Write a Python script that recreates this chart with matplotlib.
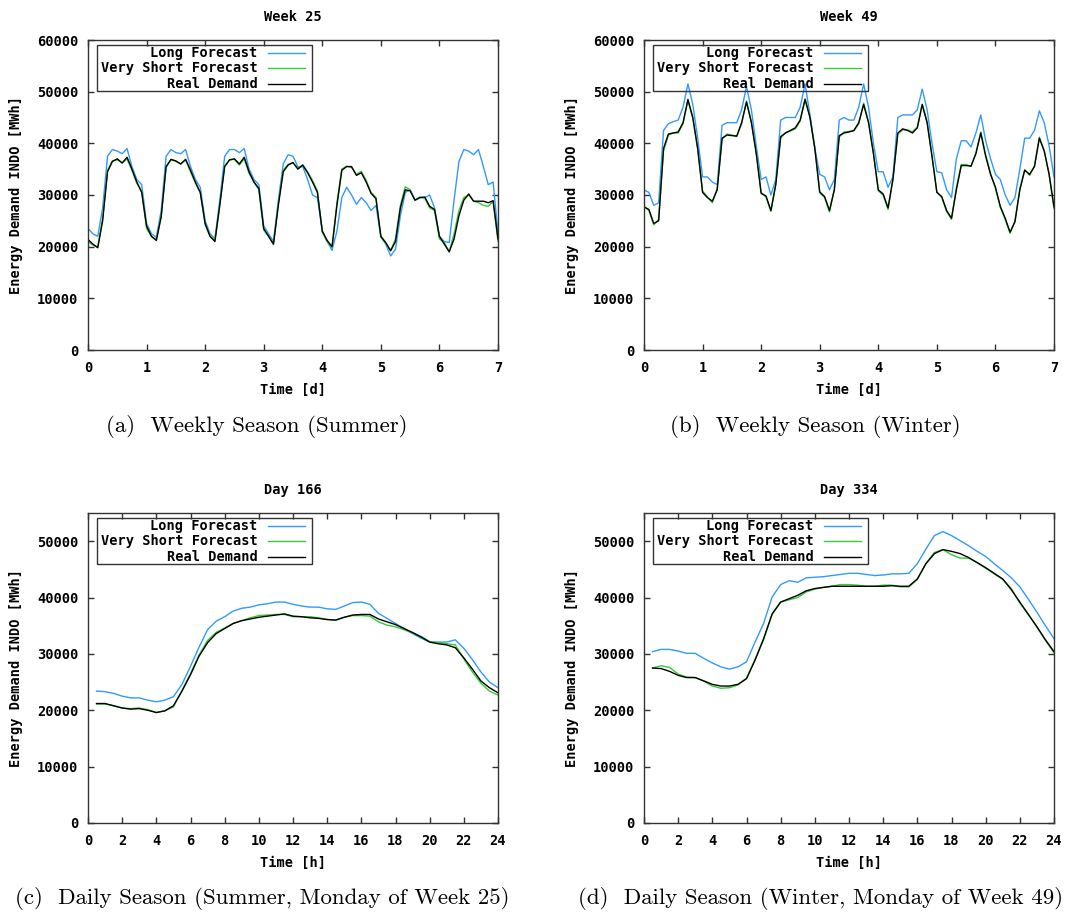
import matplotlib
matplotlib.use("Agg")
import matplotlib.pyplot as plt
from matplotlib.patches import Rectangle
import numpy as np

# values in thousands of MWh, weekly data every 2 hours (12 per day), daily data every 30 min
long_w25 = [
    23.5, 22.5, 22.0, 27.5, 37.5, 38.8, 38.5, 38.0, 39.0, 35.5, 33.0, 32.0,
    24.5, 22.5, 21.8, 27.0, 37.5, 38.8, 38.2, 38.0, 38.8, 35.5, 33.0, 31.5,
    25.0, 22.5, 21.5, 29.0, 37.5, 38.8, 38.8, 38.2, 39.0, 35.0, 33.0, 32.0,
    24.0, 22.5, 21.0, 29.0, 36.0, 37.8, 37.5, 35.5, 35.5, 33.0, 30.0, 29.5,
    23.0, 21.0, 19.3, 23.0, 29.5, 31.5, 30.0, 28.2, 29.5, 28.5, 27.0, 28.0,
    22.0, 20.5, 18.2, 19.5, 26.0, 30.5, 31.0, 29.0, 29.5, 29.5, 30.0, 27.5,
    22.0, 21.0, 20.8, 29.0, 36.5, 38.8, 38.5, 37.8, 38.8, 35.5, 32.0, 32.5,
    22.5]
vshort_w25 = [
    21.0, 20.3, 19.9, 25.5, 34.8, 36.6, 36.8, 36.2, 37.0, 34.8, 32.3, 30.8,
    23.5, 22.0, 21.3, 26.0, 35.3, 36.8, 36.5, 36.0, 36.8, 34.5, 32.3, 30.5,
    24.3, 22.0, 21.2, 28.2, 35.6, 36.8, 36.9, 35.8, 37.0, 34.2, 32.5, 31.0,
    23.2, 22.0, 20.4, 28.5, 34.8, 35.9, 36.2, 35.2, 35.8, 34.5, 32.8, 30.8,
    22.8, 21.0, 19.8, 28.5, 35.0, 35.6, 35.3, 34.0, 34.6, 32.8, 30.5, 29.5,
    21.8, 20.6, 19.3, 21.5, 28.0, 31.6, 31.0, 29.0, 29.6, 29.4, 27.5, 27.0,
    21.5, 20.8, 19.0, 22.5, 27.0, 29.5, 30.0, 28.8, 28.5, 28.0, 27.8, 28.8,
    21.0]
real_w25 = [
    21.4, 20.5, 19.8, 25.0, 34.5, 36.5, 37.0, 36.2, 37.3, 35.0, 32.5, 30.5,
    24.0, 22.0, 21.2, 25.8, 35.5, 36.9, 36.6, 36.0, 36.9, 34.8, 32.5, 30.5,
    24.5, 22.0, 21.0, 28.0, 35.5, 36.8, 37.0, 36.0, 37.3, 34.5, 32.5, 31.3,
    23.5, 22.0, 20.5, 28.0, 34.5, 35.8, 36.3, 35.0, 35.8, 34.3, 32.5, 30.5,
    23.0, 21.2, 20.0, 28.0, 34.8, 35.5, 35.5, 33.8, 34.3, 32.5, 30.3, 29.3,
    22.0, 20.8, 19.2, 21.0, 27.5, 31.0, 30.8, 29.0, 29.5, 29.6, 27.8, 27.2,
    22.0, 20.5, 19.0, 21.5, 26.0, 29.0, 30.2, 28.8, 28.8, 28.8, 28.5, 28.9,
    21.5]

long_w49 = [
    31.0, 30.5, 28.0, 28.5, 42.5, 43.8, 44.2, 44.5, 47.0, 51.5, 47.5, 41.0,
    33.5, 33.5, 32.5, 32.0, 43.5, 44.0, 44.0, 44.0, 46.5, 51.0, 46.5, 39.5,
    33.0, 33.5, 30.0, 33.0, 44.5, 45.0, 45.0, 45.0, 47.0, 51.5, 45.5, 39.0,
    34.0, 33.5, 31.0, 33.0, 44.5, 45.0, 44.5, 44.5, 47.0, 51.5, 47.0, 40.0,
    34.5, 34.5, 31.5, 33.5, 45.0, 45.5, 45.5, 45.5, 46.5, 50.5, 46.5, 40.0,
    34.5, 34.3, 31.0, 29.5, 37.0, 40.5, 40.5, 39.3, 42.0, 45.5, 40.5, 37.0,
    34.0, 33.0, 30.0, 28.0, 29.5, 35.0, 41.0, 41.0, 42.5, 46.3, 44.0, 39.5,
    33.5]
vshort_w49 = [
    27.8, 27.0, 24.2, 25.3, 38.5, 41.6, 42.0, 42.0, 43.8, 48.3, 44.8, 38.8,
    30.8, 29.6, 28.5, 31.3, 40.8, 41.8, 41.6, 41.3, 43.8, 48.2, 44.2, 38.2,
    30.5, 29.6, 26.8, 32.2, 41.0, 42.1, 42.4, 42.8, 44.3, 48.6, 45.2, 39.2,
    30.4, 29.5, 26.7, 31.2, 41.2, 42.2, 42.3, 42.4, 43.8, 47.8, 44.2, 38.3,
    30.8, 30.0, 27.2, 33.2, 41.8, 42.6, 42.6, 42.2, 43.2, 47.6, 44.2, 37.6,
    30.6, 29.5, 26.8, 25.3, 31.5, 35.9, 35.9, 35.5, 38.2, 42.2, 37.8, 34.2,
    31.3, 27.6, 25.3, 22.6, 25.0, 31.2, 34.9, 33.8, 35.7, 41.2, 38.6, 34.0,
    27.4]
real_w49 = [
    27.7, 27.2, 24.5, 25.0, 39.0, 41.8, 42.0, 42.2, 44.0, 48.5, 45.0, 39.0,
    30.5, 29.5, 28.8, 31.0, 41.0, 41.6, 41.5, 41.4, 44.0, 48.0, 44.0, 38.0,
    30.3, 29.8, 27.0, 32.0, 41.3, 42.0, 42.5, 43.0, 44.5, 48.5, 45.0, 39.0,
    30.6, 29.7, 27.0, 31.0, 41.5, 42.0, 42.2, 42.5, 44.0, 47.5, 44.0, 38.0,
    31.0, 30.2, 27.5, 33.0, 42.0, 42.8, 42.5, 42.0, 43.0, 47.5, 44.0, 37.5,
    30.5, 29.7, 27.0, 25.5, 31.0, 35.7, 35.7, 35.6, 38.0, 42.0, 37.5, 34.0,
    31.5, 27.8, 25.5, 22.8, 24.8, 31.0, 34.8, 34.0, 35.5, 41.0, 38.5, 34.0,
    27.7]

long_d166 = [
    23.4, 23.3, 23.0, 22.5, 22.2, 22.2, 21.8, 21.5, 21.8, 22.4, 24.6, 27.8,
    31.2, 34.3, 35.8, 36.6, 37.6, 38.1, 38.3, 38.7, 38.9, 39.2, 39.2, 38.8,
    38.5, 38.3, 38.3, 38.0, 37.9, 38.5, 39.1, 39.2, 38.8, 37.2, 36.3, 35.4,
    34.5, 33.6, 32.8, 32.1, 32.1, 32.1, 32.5, 31.0, 29.0, 26.8, 25.0, 24.0]
vshort_d166 = [
    21.1, 21.1, 20.8, 20.4, 20.3, 20.4, 20.1, 19.6, 19.9, 20.6, 23.5, 26.5,
    29.8, 32.4, 33.8, 34.6, 35.4, 35.9, 36.4, 36.8, 36.9, 37.0, 37.0, 36.6,
    36.6, 36.6, 36.4, 36.1, 36.0, 36.5, 36.8, 36.8, 36.7, 35.7, 35.1, 34.8,
    34.3, 33.7, 33.1, 32.2, 32.0, 31.8, 31.6, 29.1, 26.8, 24.8, 23.4, 22.7]
real_d166 = [
    21.2, 21.2, 20.8, 20.4, 20.2, 20.3, 20.0, 19.6, 19.9, 20.8, 23.4, 26.3,
    29.6, 32.0, 33.6, 34.5, 35.4, 35.9, 36.2, 36.5, 36.7, 36.9, 37.1, 36.7,
    36.6, 36.4, 36.3, 36.1, 36.0, 36.5, 36.9, 37.0, 37.0, 36.2, 35.7, 35.2,
    34.5, 33.8, 33.0, 32.1, 31.8, 31.6, 31.1, 29.3, 27.3, 25.2, 24.0, 23.1]

long_d334 = [
    30.4, 30.8, 30.8, 30.5, 30.1, 30.1, 29.2, 28.4, 27.7, 27.3, 27.7, 28.6,
    32.1, 35.4, 40.1, 42.3, 43.0, 42.7, 43.5, 43.6, 43.7, 43.9, 44.1, 44.3,
    44.3, 44.1, 43.9, 44.0, 44.2, 44.2, 44.3, 46.0, 48.6, 51.0, 51.7, 51.0,
    50.1, 49.2, 48.2, 47.3, 46.0, 44.8, 43.5, 41.9, 39.7, 37.4, 35.0, 32.7]
vshort_d334 = [
    27.5, 27.9, 27.6, 26.4, 25.9, 25.8, 25.2, 24.3, 23.9, 24.0, 24.5, 25.7,
    29.0, 32.5, 37.0, 39.2, 39.6, 40.0, 41.0, 41.5, 41.8, 42.0, 42.3, 42.3,
    42.2, 42.0, 42.0, 42.2, 42.2, 41.9, 41.9, 43.2, 46.0, 48.0, 48.5, 47.6,
    47.0, 47.0, 46.2, 45.2, 44.2, 43.2, 41.6, 39.0, 37.0, 34.8, 32.4, 30.2]
real_d334 = [
    27.5, 27.4, 26.9, 26.2, 25.8, 25.8, 25.2, 24.6, 24.3, 24.3, 24.6, 25.6,
    28.9, 32.7, 37.1, 39.2, 39.8, 40.4, 41.2, 41.6, 41.8, 42.0, 42.0, 42.0,
    42.0, 42.0, 42.0, 42.0, 42.1, 42.0, 42.0, 43.3, 46.0, 47.8, 48.5, 48.2,
    47.8, 47.1, 46.2, 45.3, 44.3, 43.3, 41.4, 39.2, 37.0, 34.8, 32.5, 30.4]

t_week = np.arange(len(real_w25)) / 12.0
t_day = np.arange(1, len(real_d166) + 1) * 0.5

labels = ["Long Forecast", "Very Short Forecast", "Real Demand"]
colors = ["#3399ff", "#33cc33", "#000000"]
frame = "#333333"
mono = dict(family="DejaVu Sans Mono", weight="bold", size=9.8)

fig = plt.figure(figsize=(10.86, 9.15), dpi=100)
W, H = 1086.0, 915.0


def panel(left, top, title, t, series, xlabel, xmax, xticks, ymax, yticks):
    ax = fig.add_axes([left / W, 1 - (top + 310) / H, 410 / W, 310 / H])
    for s, c in zip(series, colors):
        ax.plot(t, np.array(s) * 1000, color=c, lw=1.0)
    ax.set_xlim(0, xmax)
    ax.set_ylim(0, ymax)
    ax.set_xticks(xticks)
    ax.set_yticks(yticks)
    ax.tick_params(direction="in", top=True, right=True, length=4, width=1,
                   color=frame, labelsize=9.8)
    ax.tick_params(axis="x", pad=8)
    ax.tick_params(axis="y", pad=7)
    for lab in ax.get_xticklabels() + ax.get_yticklabels():
        lab.set_fontfamily("DejaVu Sans Mono")
        lab.set_fontweight("bold")
    for sp in ax.spines.values():
        sp.set_color(frame)
        sp.set_linewidth(1.0)
    ax.set_xlabel(xlabel, **mono)
    ax.xaxis.set_label_coords(0.5, -0.105)
    ax.set_ylabel("Energy Demand INDO [MWh]", **mono)
    ax.yaxis.set_label_coords(-0.158, 0.5)
    ax.text(0.5, 1.074, title, transform=ax.transAxes, ha="center", va="center", **mono)
    # gnuplot style key: right aligned text, sample line to the right, no fill
    ax.add_patch(Rectangle((0.022, 0.835), 0.525, 0.149, transform=ax.transAxes,
                           fill=False, edgecolor=frame, lw=1.0, zorder=5))
    for i, (lab, c) in enumerate(zip(labels, colors)):
        y = 0.959 - i * 0.05
        ax.text(0.414, y, lab, transform=ax.transAxes, ha="right", va="center",
                zorder=6, **mono)
        ax.plot([0.438, 0.530], [y, y], transform=ax.transAxes, color=c, lw=1.0,
                zorder=6)
    return ax


panel(88, 40, "Week 25", t_week, [long_w25, vshort_w25, real_w25], "Time [d]",
      7, range(8), 60000, range(0, 60001, 10000))
panel(644, 40, "Week 49", t_week, [long_w49, vshort_w49, real_w49], "Time [d]",
      7, range(8), 60000, range(0, 60001, 10000))
panel(88, 513, "Day 166", t_day, [long_d166, vshort_d166, real_d166], "Time [h]",
      24, range(0, 25, 2), 55000, range(0, 50001, 10000))
panel(644, 513, "Day 334", t_day, [long_d334, vshort_d334, real_d334], "Time [h]",
      24, range(0, 25, 2), 55000, range(0, 50001, 10000))

cap = dict(family="cmr10", size=16.5, ha="center", va="center")
fig.text(257 / W, 1 - 427 / H, "(a)  Weekly Season (Summer)", **cap)
fig.text(815 / W, 1 - 427 / H, "(b)  Weekly Season (Winter)", **cap)
fig.text(262 / W, 1 - 898 / H, "(c)  Daily Season (Summer, Monday of Week 25)", **cap)
fig.text(821 / W, 1 - 898 / H, "(d)  Daily Season (Winter, Monday of Week 49)", **cap)

fig.savefig("out.png", dpi=100, facecolor="white")
